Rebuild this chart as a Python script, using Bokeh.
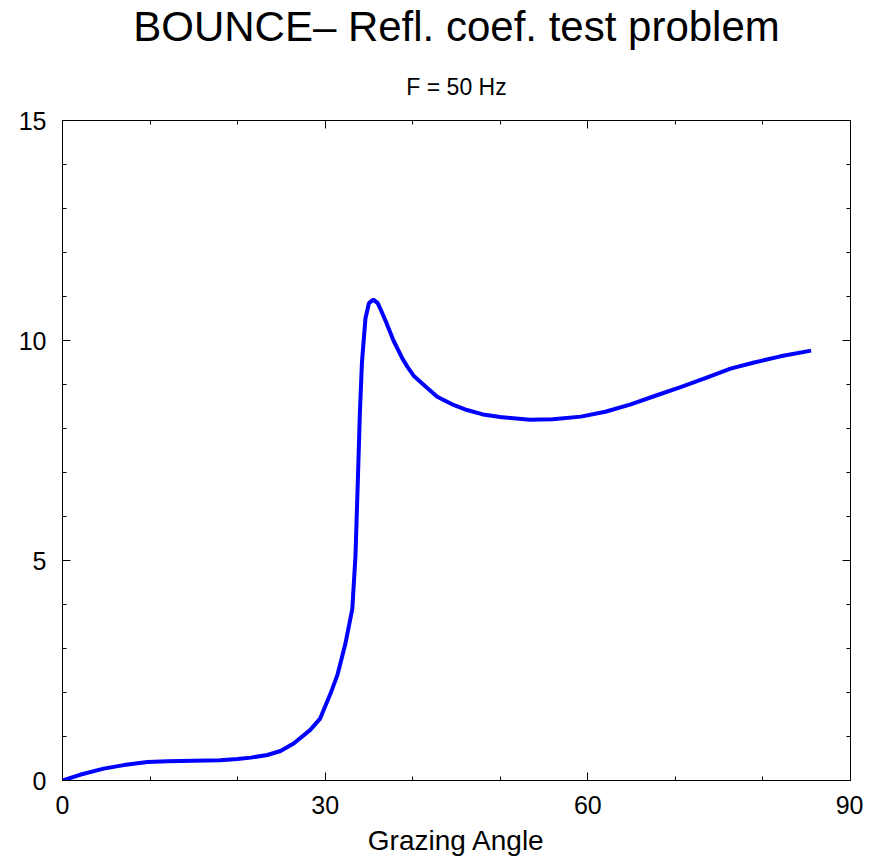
from bokeh.plotting import figure
from bokeh.models import LinearAxis, FixedTicker, Range1d, Title
from bokeh.embed import file_html
from bokeh.resources import INLINE

# data
angle = [0, 2, 4.7, 7, 9.7, 12, 15, 18, 20, 21.5, 23.4, 24.9, 26.4, 28.3, 29.4,
         30.6, 31.4, 32.3, 33.1, 33.46, 33.73, 33.96, 34.2, 34.6, 35.0, 35.5,
         36.0, 36.3, 37.0, 37.8, 38.8, 39.4, 40.1, 41.5, 42.8, 44.5, 46.2, 48.0,
         50.0, 53.4, 56.0, 59.2, 62.0, 64.9, 67.8, 70.6, 73.5, 76.3, 79.0, 82.0,
         85.5]
refl = [0, 0.13, 0.27, 0.35, 0.42, 0.44, 0.45, 0.46, 0.49, 0.52, 0.58, 0.67,
        0.84, 1.15, 1.4, 1.97, 2.4, 3.1, 3.9, 5.1, 6.8, 8.33, 9.5, 10.5, 10.85,
        10.93, 10.85, 10.72, 10.4, 10.0, 9.6, 9.4, 9.2, 8.95, 8.72, 8.55, 8.42,
        8.32, 8.26, 8.20, 8.21, 8.27, 8.38, 8.55, 8.75, 8.94, 9.15, 9.36, 9.50,
        9.64, 9.77]
x_major = [0, 30, 60, 90]
x_minor = [10, 20, 40, 50, 70, 80]
y_major = [0, 5, 10, 15]
y_minor = [1, 2, 3, 4, 6, 7, 8, 9, 11, 12, 13, 14]

title_text = "BOUNCE\u2013 Refl. coef. test problem"
subtitle_text = "F = 50 Hz"
xlabel = "Grazing Angle"

FONT = "Liberation Sans"

p = figure(width=863, height=861, output_backend="svg", toolbar_location=None,
           x_range=Range1d(0, 90), y_range=Range1d(0, 15),
           x_axis_location=None, y_axis_location=None, title=None,
           min_border_left=62, min_border_right=13, min_border_top=120,
           min_border_bottom=81)
p.xgrid.visible = False
p.ygrid.visible = False
p.outline_line_color = "black"
p.background_fill_color = "white"
p.border_fill_color = "white"


def style(ax):
    ax.axis_line_color = "black"
    ax.axis_line_width = 1
    ax.major_tick_in = 8
    ax.major_tick_out = 0
    ax.minor_tick_in = 4
    ax.minor_tick_out = 0
    ax.major_tick_line_color = "black"
    ax.minor_tick_line_color = "black"
    ax.major_label_text_font = FONT
    ax.major_label_text_font_size = "25px"
    ax.major_label_text_color = "black"
    ax.axis_label_text_font = FONT
    ax.axis_label_text_font_style = "normal"
    ax.axis_label_text_font_size = "28px"
    ax.axis_label_text_color = "black"


def bare(ticks, length):
    # axis with only (unlabelled) minor ticks
    ax = LinearAxis(ticker=FixedTicker(ticks=[], minor_ticks=ticks))
    style(ax)
    ax.minor_tick_in = length
    return ax


xb = LinearAxis(ticker=FixedTicker(ticks=x_major, minor_ticks=x_minor),
                axis_label=xlabel)
style(xb)
xb.major_label_standoff = 15
xb.axis_label_standoff = 8
p.add_layout(xb, "below")

yl = LinearAxis(ticker=FixedTicker(ticks=y_major, minor_ticks=y_minor))
style(yl)
yl.major_label_standoff = 16
p.add_layout(yl, "left")

p.add_layout(bare(x_major, 8), "above")
p.add_layout(bare(x_minor, 4), "above")
p.add_layout(bare(y_major, 8), "right")
p.add_layout(bare(y_minor, 4), "right")

sub = Title(text=subtitle_text, align="center", text_font=FONT,
            text_font_size="23px", text_font_style="normal",
            text_color="black", standoff=42)
p.add_layout(sub, "above")
main = Title(text=title_text, align="center", text_font=FONT,
             text_font_size="42px", text_font_style="normal",
             text_color="black", standoff=1)
p.add_layout(main, "above")

p.line(angle, refl, line_color="#0000ff", line_width=4)

open("out.html", "w").write(file_html(p, INLINE))
